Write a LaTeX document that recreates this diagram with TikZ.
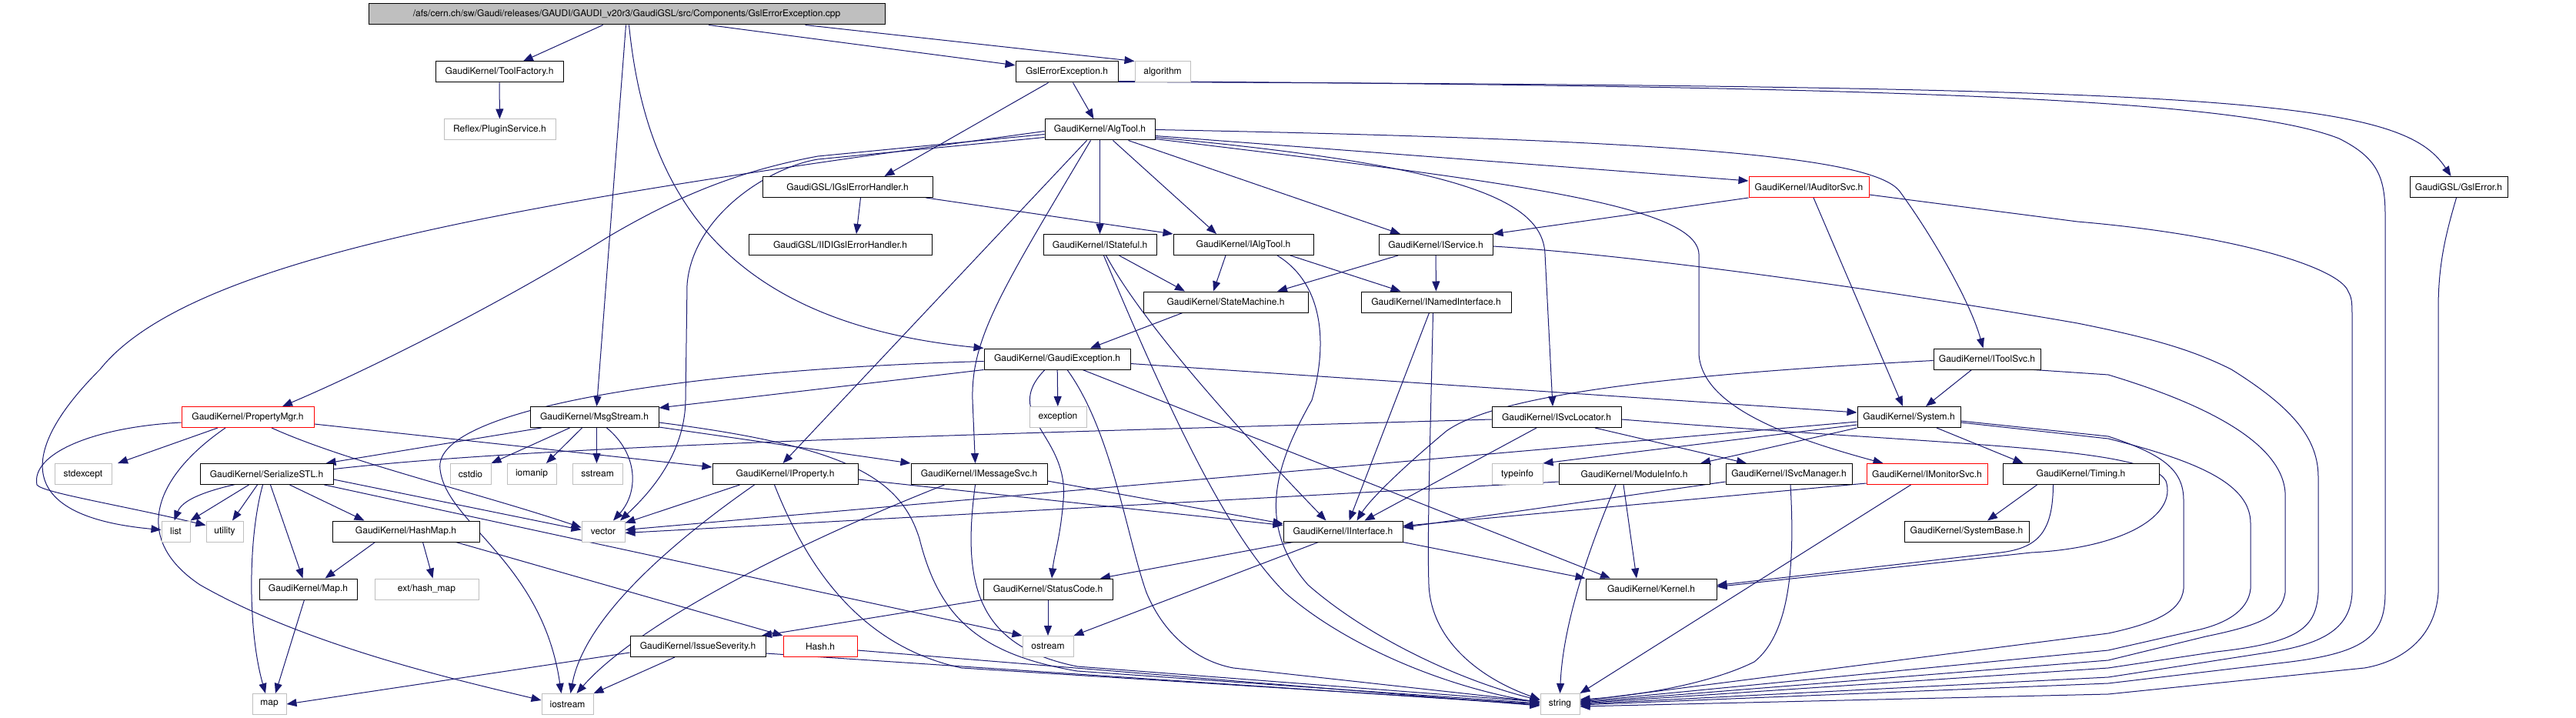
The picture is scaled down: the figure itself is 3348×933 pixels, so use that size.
\documentclass[tikz,border=0pt]{standalone}
\usepackage{fontspec}
\setmainfont{TeX Gyre Heros}
\usetikzlibrary{arrows.meta}
\definecolor{eblue}{HTML}{191970}
\definecolor{gline}{HTML}{BFBFBF}
\definecolor{rootfill}{HTML}{BFBFBF}
\definecolor{rline}{HTML}{FF0000}
\pgfdeclarelayer{bg}
\pgfsetlayers{bg,main}
\newcommand\mkn[6]{\node[#5,minimum width={(#3-#2)*1pt}] (#1) at ({(#2+#3)/2},#4) {#6};}
\begin{document}
\begin{tikzpicture}[x=1pt,y=-1pt,
  box/.style={draw=black,fill=white,line width=1pt,inner sep=0pt,minimum height=27pt,font=\fontsize{12}{14}\selectfont},
  gbox/.style={box,draw=gline},
  rbox/.style={box,draw=rline},
  rootbox/.style={box,fill=rootfill},
  e/.style={draw=eblue,line width=1pt,-{Triangle[length=13pt,width=10pt]}}]
\useasboundingbox (0,0) rectangle (3348,933);
% nodes
\mkn{root}{479}{1150}{18.5}{rootbox}{/afs/cern.ch/sw/Gaudi/releases/GAUDI/GAUDI\_v20r3/GaudiGSL/src/Components/GslErrorException.cpp}
\mkn{tf}{566}{732}{93.5}{box}{GaudiKernel/ToolFactory.h}
\mkn{plug}{577}{722}{168.5}{gbox}{Reflex/PluginService.h}
\mkn{gee}{1320}{1453}{93.5}{box}{GslErrorException.h}
\mkn{alg}{1475}{1547}{93.5}{gbox}{algorithm}
\mkn{algt}{1358}{1501}{168.5}{box}{GaudiKernel/AlgTool.h}
\mkn{igeh}{991}{1212}{243}{box}{GaudiGSL/IGslErrorHandler.h}
\mkn{iauditor}{2273}{2429}{243}{rbox}{GaudiKernel/IAuditorSvc.h}
\mkn{gslerr}{3132}{3259}{243}{box}{GaudiGSL/GslError.h}
\mkn{iidi}{973}{1211}{318}{box}{GaudiGSL/IIDIGslErrorHandler.h}
\mkn{istate}{1356}{1503}{318}{box}{GaudiKernel/IStateful.h}
\mkn{ialg}{1525}{1707}{318}{box}{GaudiKernel/IAlgTool.h}
\mkn{iserv}{1792}{1940}{318}{box}{GaudiKernel/IService.h}
\mkn{sm}{1486}{1700}{392.5}{box}{GaudiKernel/StateMachine.h}
\mkn{inamed}{1769}{1964}{392.5}{box}{GaudiKernel/INamedInterface.h}
\mkn{gex}{1279}{1469}{466.5}{box}{GaudiKernel/GaudiException.h}
\mkn{itool}{2513}{2652}{466.5}{box}{GaudiKernel/IToolSvc.h}
\mkn{pmgr}{236}{408}{542}{rbox}{GaudiKernel/PropertyMgr.h}
\mkn{msg}{689}{856}{542}{box}{GaudiKernel/MsgStream.h}
\mkn{exc}{1338}{1412}{542}{gbox}{exception}
\mkn{isvcloc}{1939}{2107}{542}{box}{GaudiKernel/ISvcLocator.h}
\mkn{sys}{2414}{2548}{542}{box}{GaudiKernel/System.h}
\mkn{stdexc}{71}{145}{616}{gbox}{stdexcept}
\mkn{ser}{260}{433}{616}{box}{GaudiKernel/SerializeSTL.h}
\mkn{cstdio}{585}{638}{616}{gbox}{cstdio}
\mkn{iomanip}{659}{723}{616}{gbox}{iomanip}
\mkn{sstream}{744}{809}{616}{gbox}{sstream}
\mkn{iprop}{926}{1115}{616}{box}{GaudiKernel/IProperty.h}
\mkn{imsg}{1184}{1361}{616}{box}{GaudiKernel/IMessageSvc.h}
\mkn{typeinfo}{1939}{2005}{616}{gbox}{typeinfo}
\mkn{modinfo}{2026}{2222}{616}{box}{GaudiKernel/ModuleInfo.h}
\mkn{isvcmgr}{2243}{2407}{616}{box}{GaudiKernel/ISvcManager.h}
\mkn{imon}{2426}{2583}{616}{rbox}{GaudiKernel/IMonitorSvc.h}
\mkn{timing}{2603}{2806}{616}{box}{GaudiKernel/Timing.h}
\mkn{list}{210}{247}{690.5}{gbox}{list}
\mkn{utility}{268}{316}{690.5}{gbox}{utility}
\mkn{hashmap}{432}{623}{690.5}{box}{GaudiKernel/HashMap.h}
\mkn{vector}{756}{812}{690.5}{gbox}{vector}
\mkn{iint}{1668}{1823}{690.5}{box}{GaudiKernel/IInterface.h}
\mkn{sysbase}{2475}{2637}{690.5}{box}{GaudiKernel/SystemBase.h}
\mkn{mapH}{337}{464}{765.5}{box}{GaudiKernel/Map.h}
\mkn{hmap}{487}{622}{765.5}{gbox}{ext/hash\_map}
\mkn{sc}{1278}{1446}{765.5}{box}{GaudiKernel/StatusCode.h}
\mkn{kernel}{2061}{2231}{765.5}{box}{GaudiKernel/Kernel.h}
\mkn{issue}{819}{995}{840}{box}{GaudiKernel/IssueSeverity.h}
\mkn{hash}{1018}{1114}{840}{rbox}{Hash.h}
\mkn{ostream}{1329}{1395}{840}{gbox}{ostream}
\mkn{map}{328}{372}{915}{gbox}{map}
\mkn{iostream}{704}{771}{915}{gbox}{iostream}
\mkn{string}{2002}{2053}{915}{gbox}{string}
\begin{pgfonlayer}{bg}
\fill[white] (0,0) rectangle (3348,933);
% root
\draw[e] (root) -- (tf);
\draw[e] (root) -- (gee);
\draw[e] ([xshift=232pt]root.south) -- (alg.north west);
\draw[e] ([xshift=-1pt]root.south) -- ([xshift=3pt]msg.north);
\draw[e] ([xshift=3pt]root.south) .. controls (840,260) and (950,420) .. (gex.north west);
\draw[e] (tf) -- (plug);
% GslErrorException.h
\draw[e] (gee) -- (algt);
\draw[e] ([xshift=-24pt]gee.south) -- ([xshift=48pt]igeh.north);
\draw[e] ([yshift=1pt]gee.south east) .. controls (2900,112) and (3120,128) .. ([xshift=-10pt]gslerr.north);
\draw[e] ([yshift=2pt]gee.south east) .. controls (2400,112) and (2900,125) .. (3040,180) .. controls (3090,205) and (3100,230) .. (3100,280) -- (3100,770) .. controls (3100,830) and (3070,850) .. (2960,862) -- (2740,888) -- ([yshift=-1pt]string.east);
\draw[e] ([xshift=-3pt]gslerr.south) .. controls (3180,300) and (3169,340) .. (3169,400) -- (3169,770) .. controls (3165,830) and (3120,860) .. (3073,868) -- (2740,902) -- ([yshift=-3pt]string.east);
\draw[e] ([xshift=17pt]igeh.south) -- ([xshift=21pt]iidi.north);
\draw[e] ([xshift=-9pt]igeh.south east) -- (ialg.north west);
% AlgTool.h
\draw[e] (algt) -- (istate);
\draw[e] ([xshift=17pt]algt.south) -- ([xshift=-35pt]ialg.north);
\draw[e] ([xshift=37pt]algt.south) -- ([xshift=-46pt]iserv.north);
\draw[e] ([yshift=-8pt]algt.east) -- ([yshift=8pt]iauditor.west);
\draw[e] (algt.east) .. controls (2200,182) and (2440,205) .. (2470,250) .. controls (2510,305) and (2560,390) .. ([xshift=-5pt]itool.north);
\draw[e] ([yshift=-10pt]algt.east) .. controls (1900,215) and (2005,260) .. (2008,330) -- ([xshift=-5pt]isvcloc.north);
\draw[e] ([yshift=-12pt]algt.east) .. controls (1950,235) and (2205,265) .. (2208,330) -- (2208,460) .. controls (2212,530) and (2330,570) .. ([xshift=-57pt]imon.north);
\draw[e] ([yshift=-6pt]algt.west) -- (1063,203) .. controls (960,222) and (880,255) .. (790,308) .. controls (650,395) and (480,480) .. ([xshift=45pt]pmgr.north);
\draw[e] ([yshift=-2pt]algt.west) .. controls (700,260) and (250,330) .. (130,480) .. controls (30,580) and (10,670) .. ([yshift=2pt]list.west);
\draw[e] ([yshift=-10pt]algt.west) -- (1063,207) .. controls (1000,217) and (900,280) .. (893,370) -- (891,520) .. controls (890,590) and (845,640) .. ([xshift=22pt]vector.north);
\draw[e] ([xshift=-17pt]algt.south) -- ([xshift=-3pt]iprop.north);
\draw[e] ([xshift=-12pt]algt.south) .. controls (1300,380) and (1262,440) .. (1264,520) -- ([xshift=-5pt]imsg.north);
% IStateful, IAlgTool, IService
\draw[e] ([xshift=25pt]istate.south) -- ([xshift=-53pt]sm.north);
\draw[e] ([xshift=8pt]istate.south) .. controls (1490,430) and (1640,590) .. ([xshift=-22pt]iint.north);
\draw[e] ([xshift=5pt]istate.south) .. controls (1530,560) and (1600,700) .. (1670,770) .. controls (1750,840) and (1880,893) .. ([yshift=2pt]string.west);
\draw[e] ([xshift=-23pt]ialg.south) -- ([xshift=-16pt]sm.north);
\draw[e] ([xshift=61pt]ialg.south) -- ([xshift=-46pt]inamed.north);
\draw[e] ([xshift=44pt]ialg.south) .. controls (1722,370) and (1725,450) .. (1705,520) .. controls (1660,600) and (1630,680) .. (1700,760) .. controls (1780,830) and (1900,885) .. ([yshift=5pt]string.west);
\draw[e] ([xshift=-49pt]iserv.south) -- ([xshift=67pt]sm.north);
\draw[e] (iserv) -- (inamed);
\draw[e] ([yshift=-2pt]iserv.east) .. controls (2150,333) and (2500,385) .. (2700,420) .. controls (2800,440) and (2850,455) .. (2900,480) .. controls (2980,530) and (3013,570) .. (3013,620) -- (3013,770) .. controls (3010,815) and (2990,835) .. (2880,847) -- (2740,868) -- ([yshift=1pt]string.east);
% IAuditorSvc, IToolSvc
\draw[e] (iauditor.south west) -- (iserv.north east);
\draw[e] ([xshift=6pt]iauditor.south) -- ([xshift=-8pt]sys.north);
\draw[e] ([yshift=-10pt]iauditor.east) -- (2700,288) .. controls (2900,305) and (3030,345) .. (3050,375) .. controls (3057,388) .. (3057,420) -- (3057,770) .. controls (3055,810) and (3030,835) .. (2953,847) -- (2740,880) -- (string.east);
\draw[e] ([xshift=-20pt]itool.south) -- ([xshift=22pt]sys.north);
\draw[e] ([yshift=-2pt]itool.west) .. controls (2200,485) and (1950,510) .. (1880,560) .. controls (1820,610) and (1780,650) .. ([xshift=18pt]iint.north);
\draw[e] ([xshift=-9pt]itool.south east) -- (2740,487) .. controls (2850,520) and (2965,570) .. (2970,640) -- (2970,770) .. controls (2965,800) and (2940,812) .. (2867,827) -- (2740,858) -- ([yshift=2pt]string.east);
% GaudiException, StateMachine, INamedInterface
\draw[e] (gex) -- (exc);
\draw[e] ([xshift=-16pt]gex.south) .. controls (1300,540) and (1390,565) .. (1382,650) .. controls (1378,700) and (1370,720) .. ([xshift=5pt]sc.north);
\draw[e] ([xshift=13pt]gex.south) .. controls (1445,560) and (1465,700) .. (1490,770) .. controls (1515,830) and (1560,860) .. (1603,868) -- ([yshift=3pt]string.west);
\draw[e] ([yshift=-6pt]gex.east) -- ([yshift=6pt]sys.west);
\draw[e] ([xshift=33pt]gex.south) -- ([xshift=-53pt]kernel.north);
\draw[e] ([yshift=-3pt]gex.west) .. controls (900,480) and (560,530) .. (572,610) .. controls (580,680) and (705,730) .. ([xshift=-8pt]iostream.north);
\draw[e] (gex.south west) -- ([yshift=12pt]msg.east);
\draw[e] ([xshift=-56pt]sm.south) -- ([xshift=43pt]gex.north);
\draw[e] ([xshift=-9pt]inamed.south) -- ([xshift=8pt]iint.north);
\draw[e] ([xshift=-4pt]inamed.south) .. controls (1858,600) and (1855,700) .. (1857,760) .. controls (1860,830) and (1920,880) .. ([yshift=6pt]string.west);
% PropertyMgr
\draw[e] ([xshift=-39pt]pmgr.south) -- ([xshift=45pt]stdexc.north);
\draw[e] ([yshift=-7pt]pmgr.west) .. controls (120,555) and (40,590) .. (48,630) .. controls (55,640) and (150,655) .. ([yshift=8pt]utility.west);
\draw[e] ([xshift=-29pt]pmgr.south) .. controls (200,620) and (170,700) .. (260,760) .. controls (400,840) and (600,885) .. ([yshift=5pt]iostream.west);
\draw[e] ([xshift=31pt]pmgr.south) .. controls (450,600) and (620,640) .. ([yshift=5pt]vector.west);
\draw[e] ([yshift=-9pt]pmgr.east) -- ([yshift=9pt]iprop.west);
% MsgStream
\draw[e] ([xshift=-69pt]msg.south) -- ([xshift=77pt]ser.north);
\draw[e] ([xshift=-32pt]msg.south) -- (cstdio.north east);
\draw[e] ([xshift=-16pt]msg.south) -- ([xshift=19pt]iomanip.north);
\draw[e] ([xshift=3pt]msg.south) -- ([xshift=-1pt]sstream.north);
\draw[e] ([xshift=16pt]msg.south) .. controls (830,590) and (830,640) .. ([xshift=13pt]vector.north);
\draw[e] ([yshift=-13pt]msg.east) -- (imsg.north west);
\draw[e] ([yshift=-7pt]msg.east) .. controls (1100,580) and (1170,620) .. (1195,700) .. controls (1220,800) and (1270,850) .. (1400,872) -- ([yshift=1pt]string.west);
% SerializeSTL, HashMap, Map
\draw[e] ([xshift=-23pt]ser.south) -- (list.north east);
\draw[e] ([xshift=-12pt]ser.south) -- ([xshift=10pt]utility.north);
\draw[e] ([xshift=-5pt]ser.south) .. controls (322,700) and (322,820) .. ([xshift=-5pt]map.north);
\draw[e] ([xshift=5pt]ser.south) -- ([xshift=-7pt]mapH.north);
\draw[e] ([xshift=30pt]ser.south) -- ([xshift=-54pt]hashmap.north);
\draw[e] ([yshift=-7pt]ser.east) -- ([yshift=2pt]vector.west);
\draw[e] ([xshift=75pt]ser.south) -- (ostream.north west);
\draw[e] ([xshift=-40pt]hashmap.south) -- ([xshift=22pt]mapH.north);
\draw[e] ([xshift=22pt]hashmap.south) -- ([xshift=8pt]hmap.north);
\draw[e] ([xshift=65pt]hashmap.south) -- (hash.north west);
\draw[e] ([xshift=-5pt]mapH.south) -- ([xshift=8pt]map.north);
% IssueSeverity, Hash, StatusCode
\draw[e] ([yshift=-8pt]issue.west) -- (map.east);
\draw[e] ([xshift=-30pt]issue.south) -- (iostream.north east);
\draw[e] ([yshift=-9pt]issue.east) -- ([yshift=-1pt]string.west);
\draw[e] ([yshift=-5pt]hash.east) -- ([yshift=-2pt]string.west);
\draw[e] (sc.south west) -- ([xshift=83pt]issue.north);
\draw[e] (sc) -- (ostream);
% IProperty, IMessageSvc
\draw[e] ([xshift=36pt]iprop.south west) -- ([yshift=-3pt]vector.north east);
\draw[e] ([xshift=-40pt]iprop.south) .. controls (880,700) and (760,800) .. ([xshift=4pt]iostream.north);
\draw[e] ([xshift=-14pt]iprop.south) .. controls (1050,740) and (1120,840) .. (1250,868) -- (string.west);
\draw[e] ([yshift=-7pt]iprop.east) -- ([yshift=8pt]iint.west);
\draw[e] ([xshift=-45pt]imsg.south) .. controls (1000,720) and (820,820) .. ([xshift=12pt]iostream.north);
\draw[e] ([xshift=-5pt]imsg.south) .. controls (1250,760) and (1270,840) .. (1400,866) -- ([yshift=3pt]string.west);
\draw[e] ([yshift=-9pt]imsg.east) -- ([yshift=10pt]iint.west);
% ISvcLocator
\draw[e] ([yshift=-3pt]isvcloc.west) .. controls (900,575) and (260,590) .. ([xshift=-2pt]list.north);
\draw[e] ([xshift=-26pt]isvcloc.south) -- ([xshift=28pt]iint.north);
\draw[e] ([xshift=50pt]isvcloc.south) -- ([xshift=-55pt]isvcmgr.north);
\draw[e] ([yshift=-3pt]isvcloc.east) .. controls (2550,580) and (2790,580) .. (2815,625) .. controls (2830,670) and (2760,712) .. (2640,718) -- ([yshift=3pt]kernel.east);
% System
\draw[e] ([yshift=-10pt]sys.west) -- (typeinfo.north east);
\draw[e] (sys.south west) -- ([xshift=86pt]modinfo.north);
\draw[e] ([xshift=36pt]sys.south) -- ([xshift=-75pt]timing.north);
\draw[e] ([yshift=-6pt]sys.west) -- ([yshift=2pt]vector.east);
\draw[e] ([yshift=-5pt]sys.east) -- (2740,567) .. controls (2810,590) and (2838,610) .. (2838,650) -- (2838,765) .. controls (2835,795) and (2800,810) .. (2740,823) -- ([yshift=4pt]string.east);
\draw[e] ([yshift=-7pt]sys.east) -- (2740,570) .. controls (2860,600) and (2925,630) .. (2925,680) -- (2925,765) .. controls (2922,795) and (2890,812) .. (2850,820) -- (2740,845) -- ([yshift=3pt]string.east);
% ModuleInfo, ISvcManager, IMonitorSvc, Timing
\draw[e] ([xshift=-24pt]modinfo.south) .. controls (2045,760) and (2030,840) .. (string.north);
\draw[e] ([xshift=-14pt]modinfo.south) -- ([xshift=-19pt]kernel.north);
\draw[e] ([yshift=-10pt]modinfo.west) -- ([yshift=-2pt]vector.east);
\draw[e] ([yshift=-10pt]isvcmgr.west) -- ([yshift=5pt]iint.east);
\draw[e] ([xshift=2pt]isvcmgr.south) .. controls (2332,720) and (2330,820) .. (2280,860) .. controls (2220,890) and (2120,905) .. ([yshift=6pt]string.east);
\draw[e] ([yshift=-12pt]imon.west) -- ([yshift=7pt]iint.east);
\draw[e] ([xshift=-21pt]imon.south) -- (string.north east);
\draw[e] ([xshift=-57pt]timing.south) -- ([xshift=27pt]sysbase.north);
\draw[e] ([xshift=-36pt]timing.south) .. controls (2668,690) and (2650,712) .. (2600,718) -- ([yshift=5pt]kernel.east);
% IInterface
\draw[e] ([xshift=-65pt]iint.south) -- ([xshift=68pt]sc.north);
\draw[e] ([xshift=-32pt]iint.south) -- (ostream.north east);
\draw[e] (iint.south east) -- (kernel.north west);
\end{pgfonlayer}
\end{tikzpicture}
\end{document}
